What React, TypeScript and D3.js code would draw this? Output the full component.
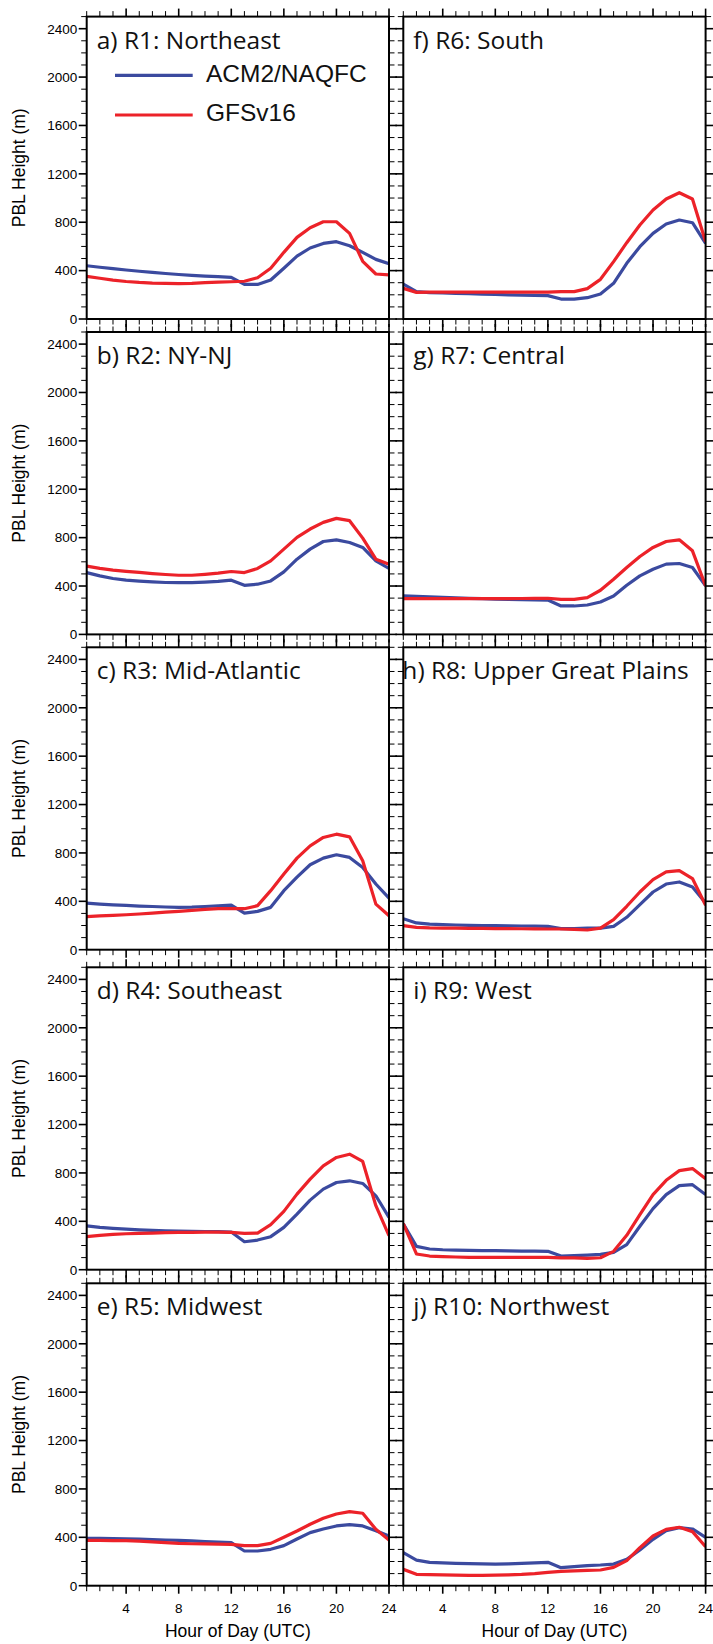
import { useEffect, useRef } from "react";
import * as d3 from "d3";

// hour of day (UTC)
const hours = [1, 2, 3, 4, 5, 6, 7, 8, 9, 10, 11, 12, 13, 14, 15, 16, 17, 18, 19, 20, 21, 22, 23, 24];
const xTicks = [4, 8, 12, 16, 20, 24];
const yTicks = [0, 400, 800, 1200, 1600, 2000, 2400];

const seriesNames = ["ACM2/NAQFC", "GFSv16"];

const regionTitles = [
  "a) R1: Northeast",
  "b) R2: NY-NJ",
  "c) R3: Mid-Atlantic",
  "d) R4: Southeast",
  "e) R5: Midwest",
  "f) R6: South",
  "g) R7: Central",
  "h) R8: Upper Great Plains",
  "i) R9: West",
  "j) R10: Northwest",
];

// ACM2/NAQFC PBL height (m)
const acm2R1 = [440, 428, 416, 405, 395, 385, 376, 368, 361, 355, 350, 344, 286, 286, 322, 419, 520, 587, 625, 639, 606, 551, 493, 457];
const acm2R2 = [511, 484, 462, 448, 440, 434, 429, 428, 428, 432, 438, 448, 406, 415, 442, 517, 622, 705, 768, 782, 760, 719, 608, 545];
const acm2R3 = [385, 377, 371, 366, 361, 357, 353, 350, 352, 357, 363, 369, 303, 317, 350, 488, 600, 702, 757, 785, 763, 680, 543, 427];
const acm2R4 = [363, 350, 342, 336, 330, 325, 322, 319, 317, 316, 314, 311, 231, 245, 273, 350, 460, 575, 666, 721, 735, 713, 611, 432];
const acm2R5 = [392, 391, 390, 388, 385, 382, 378, 375, 370, 365, 360, 356, 287, 287, 301, 331, 386, 439, 469, 494, 505, 494, 455, 411];
const acm2R6 = [289, 226, 218, 215, 212, 209, 206, 203, 200, 197, 195, 193, 165, 165, 176, 207, 295, 460, 598, 708, 785, 818, 796, 625];
const acm2R7 = [318, 315, 310, 306, 302, 298, 295, 292, 290, 288, 286, 284, 235, 235, 243, 268, 318, 406, 484, 539, 581, 586, 553, 401];
const acm2R8 = [256, 221, 212, 207, 204, 201, 200, 199, 198, 196, 195, 193, 174, 174, 179, 179, 193, 268, 372, 477, 543, 560, 519, 386];
const acm2R9 = [380, 193, 171, 165, 162, 160, 158, 157, 156, 154, 153, 152, 113, 116, 121, 127, 143, 207, 359, 505, 621, 695, 703, 621];
const acm2R10 = [273, 212, 193, 188, 185, 183, 181, 179, 181, 185, 189, 193, 149, 157, 166, 171, 179, 218, 295, 383, 455, 480, 469, 400];

// GFSv16 PBL height (m)
const gfsR1 = [353, 337, 322, 310, 302, 297, 295, 293, 295, 300, 305, 308, 312, 341, 419, 551, 675, 755, 804, 804, 708, 477, 372, 364];
const gfsR2 = [564, 546, 532, 521, 512, 503, 495, 489, 489, 497, 506, 520, 511, 545, 608, 705, 802, 871, 926, 959, 940, 796, 622, 580];
const gfsR3 = [273, 279, 284, 289, 295, 303, 311, 317, 325, 333, 339, 339, 339, 364, 488, 625, 757, 859, 928, 955, 933, 735, 377, 281];
const gfsR4 = [273, 284, 292, 297, 300, 303, 306, 308, 308, 311, 311, 308, 300, 303, 372, 482, 625, 749, 859, 928, 955, 895, 529, 281];
const gfsR5 = [375, 374, 373, 372, 368, 362, 356, 350, 347, 345, 343, 342, 331, 331, 350, 400, 452, 508, 557, 593, 612, 599, 466, 378];
const gfsR6 = [253, 220, 222, 223, 223, 223, 223, 223, 222, 222, 223, 223, 226, 226, 251, 328, 474, 631, 777, 901, 992, 1044, 992, 639];
const gfsR7 = [296, 296, 296, 296, 295, 295, 295, 295, 296, 297, 298, 299, 290, 290, 304, 365, 456, 553, 644, 719, 768, 782, 691, 401];
const gfsR8 = [199, 185, 180, 179, 178, 177, 176, 175, 174, 173, 172, 171, 171, 168, 163, 179, 248, 359, 477, 579, 643, 654, 588, 367];
const gfsR9 = [380, 130, 113, 108, 105, 102, 102, 102, 102, 102, 102, 102, 97, 97, 94, 99, 152, 284, 455, 621, 739, 819, 836, 753];
const gfsR10 = [135, 94, 91, 89, 88, 86, 86, 87, 89, 93, 100, 110, 119, 122, 126, 130, 152, 207, 314, 411, 466, 483, 447, 323];

const acm2 = [acm2R1, acm2R2, acm2R3, acm2R4, acm2R5, acm2R6, acm2R7, acm2R8, acm2R9, acm2R10];
const gfs = [gfsR1, gfsR2, gfsR3, gfsR4, gfsR5, gfsR6, gfsR7, gfsR8, gfsR9, gfsR10];

const BLUE = "#3b4a9f";
const RED = "#ec2229";
const SANS = "'Liberation Sans', Arial, Helvetica, sans-serif";
const TITLE_FONT = "'Open Sans', 'Noto Sans', sans-serif";

const W = 713;
const H = 1644;

const App = () => {
  const svgRef = useRef<SVGSVGElement>(null);

  useEffect(() => {
    const svg = d3.select(svgRef.current);
    svg.selectAll("*").remove();

    // panel layout (the rows are not evenly spaced in the original)
    const colLefts = [86.7, 403.3];
    const rowTops = [16.6, 332, 647.3, 967.3, 1283.3];
    const pw = 302.3;
    const ph = 302.4;
    const majLen = 8;
    const minLen = 5.5;

    const x = d3.scaleLinear().domain([1, 24]).range([0, pw]);
    const y = d3.scaleLinear().domain([0, 2500]).range([ph, 0]);

    const line = d3.line<number>()
      .x((d, i) => x(hours[i]))
      .y(d => y(d));

    regionTitles.forEach((title, k) => {
      const col = Math.floor(k / 5);
      const row = k % 5;
      const g = svg.append("g")
        .attr("transform", `translate(${colLefts[col]},${rowTops[row]})`);

      // tick marks (outward, all four sides)
      const tg = g.append("g").attr("stroke", "#000");
      d3.range(0, 2501, 100).forEach(v => {
        const major = v % 400 === 0;
        const len = major ? majLen : minLen;
        const sw = major ? 1.6 : 1;
        tg.append("line").attr("x1", 0).attr("x2", -len)
          .attr("y1", y(v)).attr("y2", y(v)).attr("stroke-width", sw);
        tg.append("line").attr("x1", pw).attr("x2", pw + len)
          .attr("y1", y(v)).attr("y2", y(v)).attr("stroke-width", sw);
      });
      hours.forEach(h => {
        const major = xTicks.includes(h);
        const len = major ? majLen : minLen;
        const sw = major ? 1.6 : 1;
        tg.append("line").attr("x1", x(h)).attr("x2", x(h))
          .attr("y1", ph).attr("y2", ph + len).attr("stroke-width", sw);
        tg.append("line").attr("x1", x(h)).attr("x2", x(h))
          .attr("y1", 0).attr("y2", -len).attr("stroke-width", sw);
      });

      // series lines
      const clipId = `clip-${k}`;
      g.append("clipPath").attr("id", clipId)
        .append("rect").attr("width", pw).attr("height", ph);
      const lg = g.append("g").attr("clip-path", `url(#${clipId})`);
      lg.append("path")
        .datum(acm2[k])
        .attr("fill", "none")
        .attr("stroke", BLUE)
        .attr("stroke-width", 3.2)
        .attr("stroke-linejoin", "round")
        .attr("d", line);
      lg.append("path")
        .datum(gfs[k])
        .attr("fill", "none")
        .attr("stroke", RED)
        .attr("stroke-width", 3.2)
        .attr("stroke-linejoin", "round")
        .attr("d", line);

      // frame
      g.append("rect")
        .attr("width", pw).attr("height", ph)
        .attr("fill", "none").attr("stroke", "#000").attr("stroke-width", 2);

      // panel title
      const long = title.length > 20;
      g.append("text")
        .attr("x", long ? pw - 17 : 10)
        .attr("y", 32)
        .attr("text-anchor", long ? "end" : "start")
        .attr("font-family", TITLE_FONT)
        .attr("font-size", 24.5)
        .attr("fill", "#111")
        .text(title);

      // y axis labels (left column)
      if (col === 0) {
        yTicks.forEach(v => {
          g.append("text")
            .attr("x", -9.5).attr("y", y(v))
            .attr("dy", "0.36em")
            .attr("text-anchor", "end")
            .attr("font-family", SANS)
            .attr("font-size", 13.5)
            .text(v);
        });
        g.append("text")
          .attr("transform", `translate(${19 - colLefts[0]},${ph / 2}) rotate(-90)`)
          .attr("text-anchor", "middle")
          .attr("dy", "0.35em")
          .attr("font-family", SANS)
          .attr("font-size", 17.5)
          .text("PBL Height (m)");
      }

      // x axis labels (bottom row)
      if (row === 4) {
        xTicks.forEach(h => {
          g.append("text")
            .attr("x", x(h)).attr("y", ph + 27)
            .attr("text-anchor", "middle")
            .attr("font-family", SANS)
            .attr("font-size", 13.5)
            .text(h);
        });
        g.append("text")
          .attr("x", pw / 2).attr("y", ph + 51)
          .attr("text-anchor", "middle")
          .attr("font-family", SANS)
          .attr("font-size", 17.5)
          .text("Hour of Day (UTC)");
      }

      // legend (first panel only)
      if (k === 0) {
        [BLUE, RED].forEach((c, i) => {
          const ly = 58.7 + i * 39.7;
          g.append("line")
            .attr("x1", 28.3).attr("x2", 106)
            .attr("y1", ly).attr("y2", ly)
            .attr("stroke", c).attr("stroke-width", 3.2);
          g.append("text")
            .attr("x", 119.3).attr("y", ly + 6.5)
            .attr("font-family", SANS)
            .attr("font-size", 24.5)
            .attr("fill", "#111")
            .text(seriesNames[i]);
        });
      }
    });
  }, []);

  return (
    <svg
      ref={svgRef}
      width={W}
      height={H}
      style={{ position: "absolute", left: 0, top: 0, background: "#fff" }}
    />
  );
};

export default App;
